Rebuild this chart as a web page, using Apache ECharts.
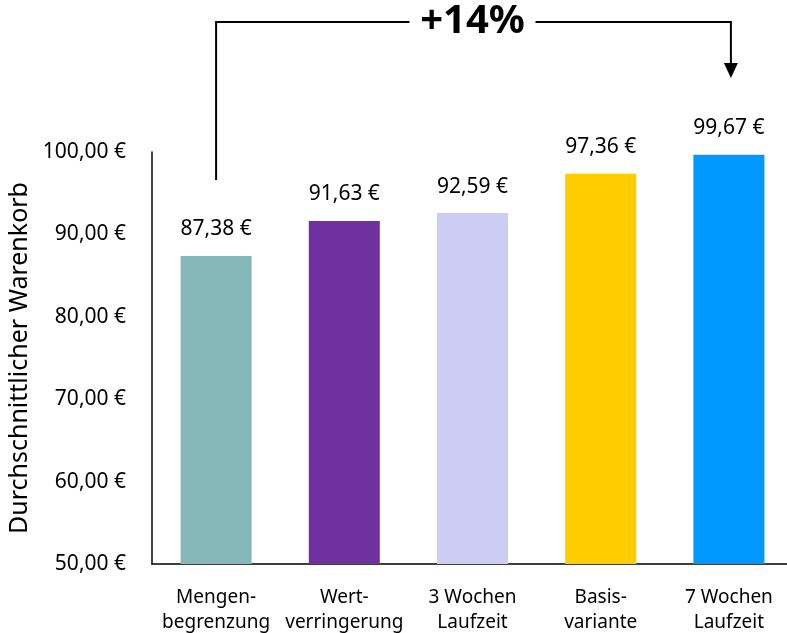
<!DOCTYPE html>
<html>
<head>
<meta charset="utf-8">
<script src="https://cdn.jsdelivr.net/npm/echarts@6/dist/echarts.min.js"></script>
<style>
  html, body { margin: 0; padding: 0; background: #fff; }
  #chart { width: 787px; height: 633px; }
</style>
</head>
<body>
<div id="chart"></div>
<script>
// Durchschnittlicher Warenkorb je Variante
const categories = [
  'Mengen-\nbegrenzung',
  'Wert-\nverringerung',
  '3 Wochen\nLaufzeit',
  'Basis-\nvariante',
  '7 Wochen\nLaufzeit'
];
const values = [87.38, 91.63, 92.59, 97.36, 99.67];
const barColors = ['#86B8B9', '#7030A0', '#CDCDF4', '#FFCC00', '#0099FF'];
const yTicks = [50, 60, 70, 80, 90, 100];
const changeLabel = '+14%';

const FONT = 'Noto Sans';
const euro = v => v.toFixed(2).replace('.', ',') + ' €';

const chart = echarts.init(document.getElementById('chart'));

chart.setOption({
  animation: false,
  textStyle: { fontFamily: FONT, color: '#000' },
  grid: { left: 152, top: 152, width: 641, height: 412, outerBoundsMode: 'none', containLabel: false },
  xAxis: {
    type: 'category',
    data: categories,
    axisLine: { lineStyle: { color: '#000', width: 1.5 } },
    axisTick: { show: false },
    axisLabel: {
      color: '#000', fontSize: 19, lineHeight: 25, margin: 21,
      fontFamily: FONT, interval: 0
    }
  },
  yAxis: {
    type: 'value',
    min: yTicks[0],
    max: yTicks[yTicks.length - 1],
    interval: 10,
    name: 'Durchschnittlicher Warenkorb',
    nameLocation: 'middle',
    nameGap: 119,
    nameTextStyle: { fontSize: 25, color: '#000', fontFamily: FONT },
    axisLine: { show: true, lineStyle: { color: '#000', width: 1.5 } },
    axisTick: { show: false },
    splitLine: { show: false },
    axisLabel: {
      color: '#000', fontSize: 21, margin: 26, fontFamily: FONT,
      formatter: v => euro(v)
    }
  },
  series: [{
    type: 'bar',
    data: values.map((v, i) => ({ value: v, itemStyle: { color: barColors[i] } })),
    barWidth: 71,
    label: {
      show: true,
      position: 'top',
      distance: 16,
      fontSize: 21,
      color: '#000',
      fontFamily: FONT,
      formatter: p => euro(p.value)
    }
  }]
});

// Bracket from the first to the last bar with the overall change
const xFirst = chart.convertToPixel({ xAxisIndex: 0 }, 0);
const xLast = chart.convertToPixel({ xAxisIndex: 0 }, categories.length - 1);
const xMid = (xFirst + xLast) / 2;
const topY = 22;
const gapHalf = 63;
const lineStyle = { stroke: '#000', lineWidth: 2, fill: null };

chart.setOption({
  graphic: [
    { type: 'polyline', shape: { points: [[xFirst, 180], [xFirst, topY], [xMid - gapHalf, topY]] }, style: lineStyle },
    { type: 'polyline', shape: { points: [[xMid + gapHalf, topY], [xLast + 2, topY], [xLast + 2, 66]] }, style: lineStyle },
    { type: 'polygon', shape: { points: [[xLast - 5, 63], [xLast + 9, 63], [xLast + 2, 78]] }, style: { fill: '#000' } },
    {
      type: 'text', x: xMid, y: topY,
      style: {
        text: changeLabel, fontSize: 40, fontWeight: 'bold', fontFamily: FONT,
        fill: '#000', align: 'center', verticalAlign: 'middle'
      }
    }
  ]
});
</script>
</body>
</html>
